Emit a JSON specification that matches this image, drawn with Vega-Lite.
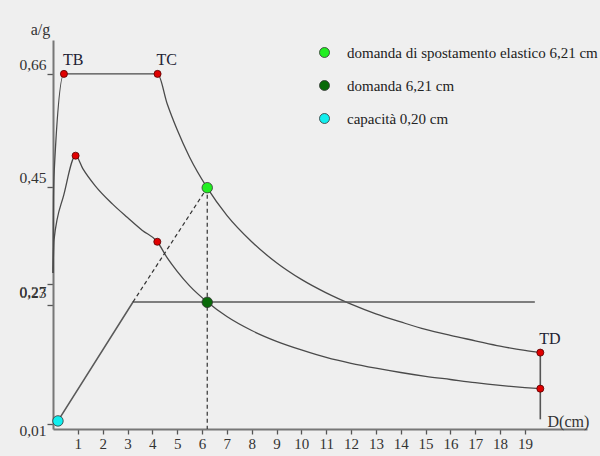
{
  "$schema": "https://vega.github.io/schema/vega-lite/v6.json",
  "width": 534,
  "height": 389,
  "autosize": {"type": "none"},
  "padding": {"left": 53, "top": 40, "right": 13, "bottom": 27},
  "background": "#efefef",
  "view": {"stroke": null},
  "config": {"font": "Liberation Serif"},
  "datasets": {
    "curves": [
      {"s": "el", "D": 0, "a": 0.29},
      {"s": "el", "D": 0.02, "a": 0.43},
      {"s": "el", "D": 0.05, "a": 0.48},
      {"s": "el", "D": 0.44, "a": 0.66},
      {"s": "el", "D": 4.21, "a": 0.66},
      {"s": "el", "D": 4.6, "a": 0.604},
      {"s": "el", "D": 5, "a": 0.556},
      {"s": "el", "D": 5.5, "a": 0.505},
      {"s": "el", "D": 6.21, "a": 0.448},
      {"s": "el", "D": 7, "a": 0.397},
      {"s": "el", "D": 8, "a": 0.348},
      {"s": "el", "D": 9, "a": 0.309},
      {"s": "el", "D": 10, "a": 0.278},
      {"s": "el", "D": 11, "a": 0.253},
      {"s": "el", "D": 12, "a": 0.232},
      {"s": "el", "D": 13, "a": 0.214},
      {"s": "el", "D": 14, "a": 0.199},
      {"s": "el", "D": 15, "a": 0.185},
      {"s": "el", "D": 16, "a": 0.174},
      {"s": "el", "D": 17, "a": 0.164},
      {"s": "el", "D": 18, "a": 0.154},
      {"s": "el", "D": 19, "a": 0.146},
      {"s": "el", "D": 19.62, "a": 0.142},
      {"s": "in", "D": 0, "a": 0.29},
      {"s": "in", "D": 0.04, "a": 0.351},
      {"s": "in", "D": 0.44, "a": 0.436},
      {"s": "in", "D": 0.91, "a": 0.508},
      {"s": "in", "D": 1.2, "a": 0.484},
      {"s": "in", "D": 1.7, "a": 0.452},
      {"s": "in", "D": 2.4, "a": 0.418},
      {"s": "in", "D": 3.0, "a": 0.393},
      {"s": "in", "D": 3.6, "a": 0.369},
      {"s": "in", "D": 4.2, "a": 0.348},
      {"s": "in", "D": 4.6, "a": 0.318},
      {"s": "in", "D": 5, "a": 0.293},
      {"s": "in", "D": 5.5, "a": 0.266},
      {"s": "in", "D": 6.21, "a": 0.236},
      {"s": "in", "D": 7, "a": 0.209},
      {"s": "in", "D": 8, "a": 0.183},
      {"s": "in", "D": 9, "a": 0.163},
      {"s": "in", "D": 10, "a": 0.147},
      {"s": "in", "D": 11, "a": 0.133},
      {"s": "in", "D": 12, "a": 0.122},
      {"s": "in", "D": 13, "a": 0.113},
      {"s": "in", "D": 14, "a": 0.105},
      {"s": "in", "D": 15, "a": 0.098},
      {"s": "in", "D": 16, "a": 0.092},
      {"s": "in", "D": 17, "a": 0.086},
      {"s": "in", "D": 18, "a": 0.081},
      {"s": "in", "D": 19, "a": 0.077},
      {"s": "in", "D": 19.62, "a": 0.075}
    ],
    "capacity": [
      {"D": 0.2, "a": 0.015},
      {"D": 3.22, "a": 0.236},
      {"D": 19.4, "a": 0.236}
    ],
    "dashed": [
      {"k": "diag", "D": 3.22, "a": 0.236, "D2": 6.21, "a2": 0.4485},
      {"k": "vert", "D": 6.21, "a": 0.4485, "D2": 6.21, "a2": 0}
    ],
    "tdline": [
      {"D": 19.62, "a": 0.142, "D2": 19.62, "a2": 0.018}
    ],
    "red": [
      {"D": 0.44, "a": 0.66},
      {"D": 4.21, "a": 0.66},
      {"D": 19.62, "a": 0.142},
      {"D": 0.91, "a": 0.508},
      {"D": 4.2, "a": 0.348},
      {"D": 19.62, "a": 0.075}
    ],
    "special": [
      {"k": "domanda di spostamento elastico 6,21 cm", "D": 6.21, "a": 0.4485},
      {"k": "domanda 6,21 cm", "D": 6.21, "a": 0.2355},
      {"k": "capacità 0,20 cm", "D": 0.2, "a": 0.015}
    ],
    "labels": [
      {"t": "TB", "D": 0.44, "a": 0.66},
      {"t": "TC", "D": 4.21, "a": 0.66},
      {"t": "TD", "D": 19.62, "a": 0.142}
    ]
  },
  "encoding": {
    "x": {
      "field": "D",
      "type": "quantitative",
      "scale": {"domain": [0, 21.5], "nice": false, "zero": false},
      "axis": {
        "values": [1, 2, 3, 4, 5, 6, 7, 8, 9, 10, 11, 12, 13, 14, 15, 16, 17, 18, 19],
        "title": "D(cm)",
        "titleX": 494,
        "titleY": -8,
        "titleAlign": "left",
        "titleBaseline": "middle",
        "titleFontWeight": "normal",
        "titleFontSize": 16,
        "titleFont": "Liberation Serif",
        "titleColor": "#333333",
        "labelFont": "Liberation Serif",
        "labelFontSize": 15,
        "labelColor": "#333333",
        "labelPadding": 2,
        "labelFlush": false,
        "labelOverlap": false,
        "tickSize": 5,
        "tickColor": "#555555",
        "tickWidth": 1.3,
        "domainColor": "#777777",
        "domainWidth": 2,
        "grid": false
      }
    },
    "y": {
      "field": "a",
      "type": "quantitative",
      "scale": {"domain": [0, 0.723], "nice": false, "zero": false},
      "axis": {
        "values": [0.01, 0.23, 0.27, 0.45, 0.66],
        "labelExpr": "replace(format(datum.value, '.2f'), '.', ',')",
        "title": "a/g",
        "titleAngle": 0,
        "titleX": -13,
        "titleY": -11,
        "titleAlign": "center",
        "titleBaseline": "middle",
        "titleFontWeight": "normal",
        "titleFontSize": 16,
        "titleFont": "Liberation Serif",
        "titleColor": "#333333",
        "labelFont": "Liberation Serif",
        "labelFontSize": 15.5,
        "labelColor": "#333333",
        "labelPadding": 1,
        "labelOverlap": false,
        "labelOffset": {
          "condition": [
            {"test": "datum.value == 0.27", "value": 8},
            {"test": "datum.value == 0.01", "value": 7},
            {"test": "datum.value == 0.23", "value": -13}
          ],
          "value": -9
        },
        "tickSize": 6,
        "tickColor": "#555555",
        "tickWidth": 1.3,
        "domainColor": "#777777",
        "domainWidth": 2,
        "grid": false
      }
    }
  },
  "layer": [
    {
      "data": {"name": "curves"},
      "mark": {"type": "line", "interpolate": "monotone", "color": "#4a4a4a", "strokeWidth": 1.3},
      "encoding": {"detail": {"field": "s"}}
    },
    {
      "data": {"name": "capacity"},
      "mark": {"type": "line", "color": "#5a5a5a", "strokeWidth": 1.6},
      "encoding": {}
    },
    {
      "data": {"name": "dashed"},
      "mark": {"type": "rule", "color": "#333333", "strokeWidth": 1.2, "strokeDash": [4, 3]},
      "encoding": {"x2": {"field": "D2"}, "y2": {"field": "a2"}}
    },
    {
      "data": {"name": "tdline"},
      "mark": {"type": "rule", "color": "#555555", "strokeWidth": 1.6},
      "encoding": {"x2": {"field": "D2"}, "y2": {"field": "a2"}}
    },
    {
      "data": {"name": "red"},
      "mark": {"type": "point", "shape": "circle", "filled": true, "size": 50, "fill": "#e00000", "stroke": "#550000", "strokeWidth": 0.8, "opacity": 1},
      "encoding": {}
    },
    {
      "data": {"name": "special"},
      "mark": {"type": "point", "shape": "circle", "filled": true, "size": 110, "stroke": "#333333", "strokeWidth": 0.8, "opacity": 1},
      "encoding": {
        "color": {
          "field": "k",
          "type": "nominal",
          "scale": {
            "domain": ["domanda di spostamento elastico 6,21 cm", "domanda 6,21 cm", "capacità 0,20 cm"],
            "range": ["#22ee22", "#0a6a0a", "#11eeee"]
          },
          "legend": {
            "orient": "none",
            "legendX": 264,
            "legendY": 5,
            "title": null,
            "labelFont": "Liberation Serif",
            "labelFontSize": 15,
            "labelColor": "#222222",
            "labelLimit": 400,
            "labelOffset": 15,
            "symbolType": "circle",
            "symbolSize": 100,
            "symbolStrokeColor": "#333333",
            "symbolStrokeWidth": 0.8,
            "rowPadding": 17
          }
        }
      }
    },
    {
      "data": {"name": "labels"},
      "mark": {"type": "text", "align": "left", "baseline": "middle", "dx": -1, "dy": -14, "font": "Liberation Serif", "fontSize": 16, "color": "#222233"},
      "encoding": {"text": {"field": "t"}}
    }
  ]
}
